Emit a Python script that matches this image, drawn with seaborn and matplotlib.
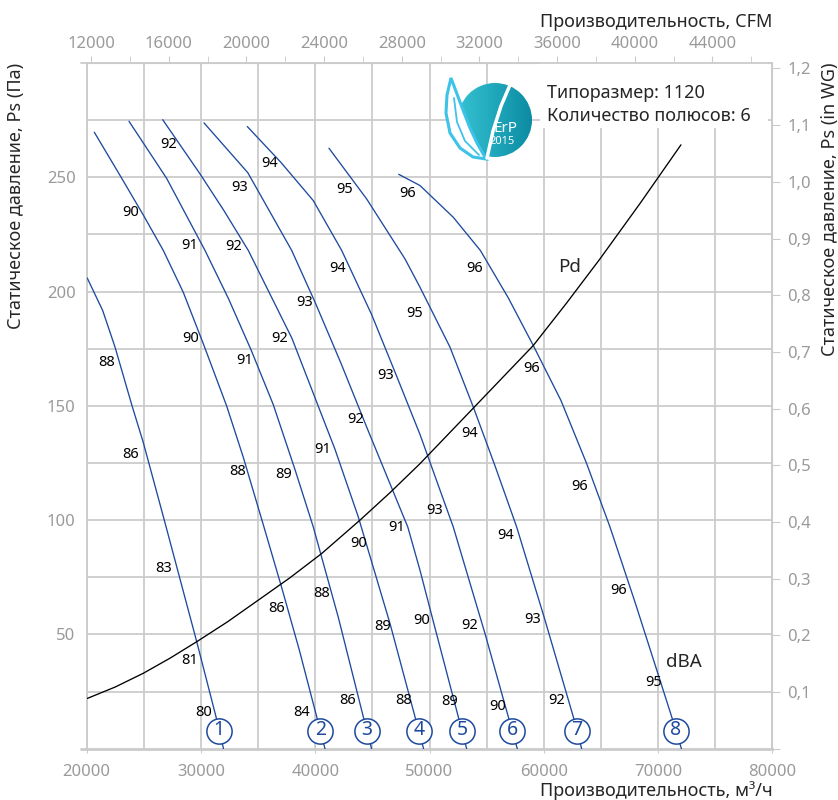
import numpy as np
import pandas as pd
import matplotlib
matplotlib.use('Agg')
import matplotlib.pyplot as plt
import seaborn as sns
from matplotlib.patches import Circle, Polygon, Rectangle
from matplotlib.colors import LinearSegmentedColormap
from matplotlib.ticker import FuncFormatter

# fan curves: flow (m3/h) vs static pressure (Pa)
c1_flow = [20050, 21400, 22480, 23940, 24950, 26790, 29630, 31315, 31971]
c1_pa = [205.9, 191.7, 175.7, 150.5, 134.0, 100.0, 46.8, 14.0, 0]
c2_flow = [20665, 22800, 24953, 26703, 28450, 30204, 32251, 33704, 35454, 37064, 38600, 40127, 40853]
c2_pa = [269.7, 251.8, 233.5, 218.0, 199.7, 177.2, 149.9, 127.5, 98.0, 70.5, 43.3, 14.0, 0]
c3_flow = [23702, 27000, 30352, 32400, 34400, 36330, 38250, 39830, 42018, 44205, 44930]
c3_pa = [274.5, 249.5, 218.0, 197.0, 174.3, 150.5, 121.8, 97.0, 57.5, 14.0, 0]
c4_flow = [26651, 29915, 32000, 34142, 37966, 41729, 43768, 46542, 48730, 49480]
c4_pa = [275.2, 251.5, 235.5, 218.0, 179.5, 131.0, 101.4, 54.8, 14.0, 0]
c5_flow = [30265, 34100, 37940, 39979, 42240, 44503, 48100, 49166, 50300, 52518, 53250]
c5_pa = [273.8, 252.0, 218.0, 195.4, 168.8, 140.7, 97.0, 78.1, 56.3, 14.0, 0]
c6_flow = [34054, 37000, 39830, 42315, 44930, 47100, 49167, 52081, 54855, 56894, 57682]
c6_pa = [272.2, 256.5, 239.8, 218.0, 190.0, 163.3, 137.5, 97.0, 50.4, 14.0, 0]
c7_flow = [41203, 44503, 47854, 49167, 51792, 53831, 55730, 57629, 60106, 62582, 63317]
c7_pa = [262.7, 240.5, 214.3, 201.9, 175.7, 149.5, 123.8, 97.0, 56.3, 14.0, 0]
c8_flow = [47303, 49167, 52081, 54450, 56900, 59082, 61500, 63756, 65795, 68026, 71194, 72050]
c8_pa = [251.3, 246.4, 232.5, 218.0, 197.2, 176.4, 152.4, 124.7, 97.0, 63.5, 14.0, 0]

# dynamic pressure line
pd_flow = [20053, 22500, 24953, 27290, 29626, 32320, 35017, 37790, 40565, 43917, 46540,
           49167, 53831, 59082, 62000, 64920, 68460, 72007]
pd_pa = [22.0, 27.0, 33.0, 39.6, 46.8, 55.5, 65.0, 74.8, 85.4, 100.0, 112.0,
         124.7, 149.0, 176.4, 195.0, 214.3, 238.8, 264.2]

# dBA labels along each curve: (flow, pressure, text)
c1_db = [(21750, 169.1, '88'), (23877, 128.8, '86'), (26703, 78.8, '83'), (28978, 38.8, '81'), (30204, 15.9, '80')]
c2_db = [(23877, 234.6, '90'), (29101, 179.4, '90'), (33179, 121.1, '88'), (36627, 61.4, '86'), (38815, 15.9, '84')]
c3_db = [(27141, 264.2, '92'), (29040, 220.1, '91'), (33791, 169.9, '91'), (37266, 120.1, '89'), (40560, 67.9, '88'), (42841, 21.3, '86')]
c4_db = [(32829, 219.8, '92'), (36854, 179.4, '92'), (40689, 131.0, '91'), (43831, 89.8, '90'), (45931, 53.6, '89'), (47769, 21.3, '88')]
c5_db = [(33354, 245.6, '93'), (39104, 195.4, '93'), (43540, 144.0, '92'), (47128, 96.9, '91'), (49316, 56.3, '90'), (51768, 20.5, '89')]
c6_db = [(35980, 256.1, '94'), (41930, 210.0, '94'), (46166, 163.3, '93'), (50480, 104.3, '93'), (53543, 54.1, '92'), (55994, 18.4, '90')]
c7_db = [(42604, 244.6, '95'), (48730, 190.3, '95'), (53543, 137.8, '94'), (56694, 93.4, '94'), (59030, 56.6, '93'), (61130, 21.3, '92')]
c8_db = [(48123, 243.0, '96'), (53983, 210.0, '96'), (58954, 166.3, '96'), (63169, 114.5, '96'), (66582, 69.4, '96'), (69594, 28.8, '95')]

curve_ids = [1, 2, 3, 4, 5, 6, 7, 8]
curve_flows = [c1_flow, c2_flow, c3_flow, c4_flow, c5_flow, c6_flow, c7_flow, c8_flow]
curve_pas = [c1_pa, c2_pa, c3_pa, c4_pa, c5_pa, c6_pa, c7_pa, c8_pa]
curve_dbs = [c1_db, c2_db, c3_db, c4_db, c5_db, c6_db, c7_db, c8_db]
marker_pa = 7.85

x_ticks = [20000, 30000, 40000, 50000, 60000, 70000, 80000]
y_ticks = [50, 100, 150, 200, 250]
cfm_ticks = [12000, 16000, 20000, 24000, 28000, 32000, 36000, 40000, 44000]
inwg_ticks = [0, 0.1, 0.2, 0.3, 0.4, 0.5, 0.6, 0.7, 0.8, 0.9, 1.0, 1.1, 1.2]
M3H_PER_CFM = 1.699
PA_PER_INWG = 248.0

sns.set_style('white')
plt.rcParams['font.family'] = ['Noto Sans', 'DejaVu Sans']

blue = '#1d4a9e'
grid_c = '#cbcbcb'
tick_c = '#9a9a9a'

rows = []
for cid, fl, pa in zip(curve_ids, curve_flows, curve_pas):
    for f, p in zip(fl, pa):
        rows.append({'curve': cid, 'flow': f, 'pa': p})
df = pd.DataFrame(rows)
df_pd = pd.DataFrame({'flow': pd_flow, 'pa': pd_pa})

fig = plt.figure(figsize=(8.38, 8.0), dpi=100)
ax = fig.add_axes([86.7 / 838, 51.3 / 800, 685.6 / 838, 685.7 / 800])

sns.lineplot(data=df, x='flow', y='pa', hue='curve', palette={c: blue for c in curve_ids},
             estimator=None, sort=False, legend=False, lw=0.95, ax=ax, zorder=3)
sns.lineplot(data=df_pd, x='flow', y='pa', color='black', estimator=None, sort=False,
             lw=0.95, ax=ax, zorder=3)

# numbered circles at the bottom of each curve
for cid, fl, pa in zip(curve_ids, curve_flows, curve_pas):
    xm = np.interp(marker_pa, pa[::-1], fl[::-1])
    ax.scatter([xm], [marker_pa], s=330, facecolor='white', edgecolor=blue, lw=1.1, zorder=4)
    ax.text(xm, marker_pa + 0.3, str(cid), color=blue, fontsize=14, ha='center', va='center', zorder=5)

for labels in curve_dbs:
    for f, p, t in labels:
        ax.text(f, p, t, fontsize=10.5, ha='center', va='center', color='black', zorder=5)

ax.text(62293, 210.7, 'Pd', fontsize=13.5, ha='center', va='center')
ax.text(72296, 38.0, 'dBA', fontsize=13.5, ha='center', va='center')

ax.set_xlim(20000, 80000)
ax.set_ylim(0, 300)
ax.set_xticks(x_ticks)
ax.set_xticks(np.arange(25000, 80000, 10000), minor=True)
ax.set_yticks(y_ticks)
ax.set_yticks(np.arange(25, 300, 50), minor=True)
ax.grid(which='both', color=grid_c, lw=1.3)
ax.set_axisbelow(True)
ax.tick_params(axis='x', which='major', length=3, color=grid_c, labelcolor=tick_c, labelsize=12, pad=8, direction='out', bottom=True)
ax.tick_params(axis='x', which='minor', length=0)
ax.tick_params(axis='y', which='both', length=0, labelcolor=tick_c, labelsize=12, pad=8)
for s in ax.spines.values():
    s.set_color(grid_c)
    s.set_linewidth(1.3)
ax.spines['bottom'].set_linewidth(2)
# short stubs where top and bottom frame lines run past the left edge
ax.axhline(0, xmin=-0.009, xmax=0, color=grid_c, lw=2, clip_on=False)
ax.axhline(300, xmin=-0.009, xmax=0, color=grid_c, lw=1.3, clip_on=False)

ax.set_xlabel('Производительность, м³/ч', fontsize=13, loc='right')
ax.xaxis.set_label_coords(1.0, -0.047)
ax.set_ylabel('Статическое давление, Ps (Па)', fontsize=13, loc='top')
ax.yaxis.set_label_coords(-0.09, 1.0)

secx = ax.secondary_xaxis('top', functions=(lambda q: q / M3H_PER_CFM, lambda c: c * M3H_PER_CFM))
secx.set_xticks(cfm_ticks)
secx.set_xticks(np.arange(14000, 46001, 4000), minor=True)
secx.tick_params(which='both', length=5, color=grid_c, labelcolor=tick_c, labelsize=12, pad=3)
secx.spines['top'].set_color(grid_c)

secy = ax.secondary_yaxis('right', functions=(lambda p: p / PA_PER_INWG, lambda w: w * PA_PER_INWG))
secy.set_yticks(inwg_ticks)
secy.yaxis.set_major_formatter(FuncFormatter(lambda v, _: f'{v:.1f}'.replace('.', ',') if v > 0 else ''))
secy.tick_params(length=6, color=grid_c, labelcolor=tick_c, labelsize=12, pad=5)
secy.spines['right'].set_color(grid_c)

fig.text(772 / 838, 1 - 22 / 800, 'Производительность, CFM', fontsize=13, ha='right', va='center')
fig.text(830 / 838, 1 - 62 / 800, 'Статическое давление, Ps (in WG)', fontsize=13,
         rotation=90, ha='center', va='top')

# white box behind the info text
ax.add_patch(Rectangle((0.661, 0.905), 0.333, 0.095, transform=ax.transAxes,
                       facecolor='white', edgecolor='none', zorder=1))
fig.text(546.7 / 838, 1 - 93 / 800, 'Типоразмер: 1120', fontsize=13, va='center')
fig.text(546.7 / 838, 1 - 116 / 800, 'Количество полюсов: 6', fontsize=13, va='center')

# ErP 2015 logo
lax = fig.add_axes([438 / 838, 1 - 166 / 800, 100 / 838, 92 / 800])
lax.axis('off')
grad = np.linspace(0, 1, 256).reshape(1, -1)
erp_cmap = LinearSegmentedColormap.from_list('erp', ['#35c2d2', '#0b8ba3'])
im = lax.imshow(grad, extent=(458, 532, 157, 83), cmap=erp_cmap, aspect='auto')
im.set_clip_path(Circle((495, 120), 37, transform=lax.transData))
leaf = [(451, 78), (457, 94), (463, 110), (470, 128), (477, 143), (486, 159),
        (473, 157), (460, 148), (450, 133), (446, 113), (447, 95)]
lax.add_patch(Polygon(leaf, closed=True, facecolor='white', edgecolor='#3dc3e8', lw=2.2))
lax.plot([454, 457, 465, 479], [98, 122, 141, 155], color='#3dc3e8', lw=1.3)
lax.plot([510, 501, 493, 487], [85, 106, 131, 158], color='white', lw=2.5)
lax.text(505, 128, 'ErP', color='white', fontsize=11, ha='center', va='center')
lax.text(502, 142, '2015', color='white', fontsize=8, ha='center', va='center')
lax.set_xlim(438, 538)
lax.set_ylim(166, 74)

fig.savefig('out.png', dpi=100)
